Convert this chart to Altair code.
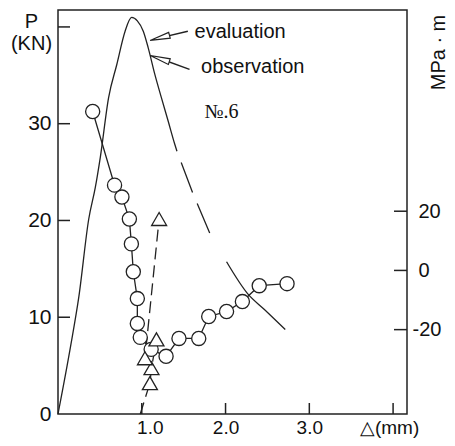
import altair as alt
import pandas as pd

# ---- data (x: displacement mm, p: load kN) ----
eval_rise_x = [0, 0.150, 0.249, 0.367, 0.446, 0.505, 0.604, 0.702, 0.801, 0.879,
               0.947, 1.018, 1.077, 1.156, 1.234, 1.314, 1.393, 1.420]
eval_rise_p = [0, 6.99, 12.13, 20.15, 23.44, 26.53, 32.70, 36.12, 39.56, 40.98,
               40.62, 39.56, 37.84, 35.10, 32.70, 30.30, 27.90, 27.15]
eval_dash_x = [1.420, 1.609, 1.846]
eval_dash_p = [27.15, 22.83, 17.99]
eval_tail_x = [2.012, 2.263, 2.464, 2.713]
eval_tail_p = [15.73, 12.44, 10.80, 8.74]

obs_x = [0.414, 0.675, 0.763, 0.852, 0.876, 0.899, 0.947, 0.947, 0.982, 1.112,
         1.290, 1.444, 1.680, 1.799, 2.012, 2.201, 2.402, 2.734]
obs_p = [31.26, 23.65, 22.42, 20.15, 17.58, 14.70, 11.93, 9.36, 7.92, 6.68,
         5.96, 7.81, 7.81, 10.08, 10.59, 11.62, 13.26, 13.47]

tri_x = [0.982, 1.097, 1.116, 1.175, 1.038, 1.207]
tri_p = [0.0, 3.19, 4.73, 7.71, 5.76, 20.15]
tri_marker = [False, True, True, True, True, True]

x_ticks = [1, 2, 3, 4]
p_ticks = [10, 20, 30, 40]
p_labels = [0, 10, 20, 30]
k_ticks = [-20, 0, 20]

labels_text = ["evaluation", "observation"]
labels_x = [1.630, 1.708]
labels_p = [38.87, 35.27]
arrow_tail_x = [1.550, 1.570]
arrow_tail_p = [39.56, 35.61]
arrow_head_x = [1.215, 1.215]
arrow_head_p = [38.87, 36.73]
arrow_angle = [345, 18]
no_text = ["№.6"]
no_x = [1.748]
no_p = [30.64]

W, H = 349, 404
INK = "#222222"

X = alt.Scale(domain=[0, 4.166], nice=False, zero=False)
YP = alt.Scale(domain=[0, 41.75], nice=False, zero=False)
YK = alt.Scale(domain=[-48.5, 87.97], nice=False, zero=False)

rise = pd.DataFrame({"x": eval_rise_x, "p": eval_rise_p, "seg": "rise"})
tail = pd.DataFrame({"x": eval_tail_x, "p": eval_tail_p, "seg": "tail"})
solid_df = pd.concat([rise, tail], ignore_index=True)
dash_df = pd.DataFrame({"x": eval_dash_x, "p": eval_dash_p})
obs_df = pd.DataFrame({"x": obs_x, "p": obs_p, "i": range(len(obs_x))})
tri_df = pd.DataFrame({"x": tri_x, "p": tri_p, "i": range(len(tri_x)), "m": tri_marker})
arrow_df = pd.DataFrame({"x": arrow_tail_x, "p": arrow_tail_p,
                         "x2": arrow_head_x, "p2": arrow_head_p, "ang": arrow_angle})
lab_df = pd.DataFrame({"t": labels_text, "x": labels_x, "p": labels_p})
no_df = pd.DataFrame({"t": no_text, "x": no_x, "p": no_p})

x_axis = alt.Axis(values=x_ticks, ticks=False, domain=False, grid=False, title=None,
                  labelFontSize=19, labelPadding=4,
                  labelExpr="datum.value == 4 ? '△(mm)' : format(datum.value, '.1f')",
                  labelOffset={"condition": [{"test": "datum.value === 1", "value": 8},
                                             {"test": "datum.value === 4", "value": -4}],
                               "value": 0})
y_axis = alt.Axis(orient="left", values=p_labels, ticks=False, domain=False, grid=False,
                  labelFontSize=21, labelPadding=7,
                  title=["P", "(KN)"], titleAngle=0, titleX=-27, titleY=1,
                  titleAlign="center", titleBaseline="top", titleFontSize=20,
                  titleFontWeight="normal", titleLineHeight=22)
k_axis = alt.Axis(orient="right", values=k_ticks, ticks=False, domain=False, grid=False,
                  labelAlign="left", labelFontSize=20,
                  labelPadding={"condition": {"test": "datum.value < 0", "value": 5}, "value": 11},
                  labelExpr="datum.value < 0 ? '-' + (-datum.value) : '' + datum.value",
                  title="MPa · m", titleAngle=270, titleX=31, titleY=42, titleAlign="center",
                  titleBaseline="middle", titleFontSize=20, titleFontWeight="normal")

# every layer with an x field shares the same x axis definition (shared scale)
def xq(f="x"):
    return alt.X(f + ":Q", scale=X, axis=x_axis)

def yq(f="p"):
    return alt.Y(f + ":Q", scale=YP, axis=None)

solid = alt.Chart(solid_df).mark_line(color=INK, strokeWidth=1.3, interpolate="monotone").encode(
    x=xq(),
    y=alt.Y("p:Q", scale=YP, axis=y_axis),
    detail="seg:N",
)
dashed = alt.Chart(dash_df).mark_line(color=INK, strokeWidth=1.3, strokeDash=[32, 12],
                                      strokeDashOffset=32).encode(x=xq(), y=yq())
obs_line = alt.Chart(obs_df).mark_line(color=INK, strokeWidth=1.3).encode(
    x=xq(), y=yq(), order="i:Q")
tri_line = alt.Chart(tri_df).mark_line(color=INK, strokeWidth=1.3, strokeDash=[12, 6]).encode(
    x=xq(), y=yq(), order="i:Q")
shafts = alt.Chart(arrow_df).mark_rule(color=INK, strokeWidth=1.5).encode(
    x=xq(), y=yq(), x2="x2:Q", y2="p2:Q")
obs_pts = alt.Chart(obs_df).mark_point(shape="circle", size=200, filled=True, fill="white",
                                       stroke=INK, strokeWidth=1.3, opacity=1).encode(
    x=xq(), y=yq())
tri_pts = alt.Chart(tri_df).transform_filter("datum.m").mark_point(
    shape="triangle-up", size=225, filled=True, fill="white", stroke=INK,
    strokeWidth=1.3, opacity=1).encode(x=xq(), y=yq())
heads = alt.Chart(arrow_df).mark_point(shape="M-1,0L1,-0.3L1,0.3Z", size=400, filled=True,
                                       fill="white", stroke=INK, strokeWidth=1.2, opacity=1).encode(
    x=xq("x2"), y=yq("p2"), angle=alt.Angle("ang:Q", scale=None))
labels = alt.Chart(lab_df).mark_text(align="left", baseline="alphabetic", fontSize=20,
                                     font="Liberation Sans", color="#111").encode(
    x=xq(), y=yq(), text="t:N")
no_lab = alt.Chart(no_df).mark_text(align="left", baseline="alphabetic", fontSize=20,
                                    font="Liberation Serif", color="#111").encode(
    x=xq(), y=yq(), text="t:N")
left_ticks = alt.Chart(pd.DataFrame({"v": p_ticks})).mark_rule(color=INK, strokeWidth=1.5).encode(
    y=yq("v"), x=alt.value(0), x2=alt.value(12))
bottom_ticks = alt.Chart(pd.DataFrame({"v": x_ticks})).mark_rule(color=INK, strokeWidth=1.5).encode(
    x=xq("v"), y=alt.value(H - 11), y2=alt.value(H))
# right (MPa·m) axis with its own scale
right_ticks = alt.Chart(pd.DataFrame({"k": k_ticks})).mark_rule(color=INK, strokeWidth=1.5).encode(
    y=alt.Y("k:Q", scale=YK, axis=k_axis), x=alt.value(W - 13), x2=alt.value(W))

chart = alt.layer(solid, dashed, obs_line, tri_line, shafts, obs_pts, tri_pts, heads,
                  labels, no_lab, left_ticks, bottom_ticks, right_ticks
).resolve_scale(y="independent").properties(
    width=W, height=H,
    padding={"left": 50, "top": 2, "right": 40, "bottom": 24},
    autosize=alt.AutoSizeParams(type="none"),
    background="white",
).configure_view(stroke=INK, strokeWidth=1.5).configure_axis(
    labelFont="Liberation Sans", titleFont="Liberation Sans",
    labelColor="#111", titleColor="#111")

chart.save("out.html", embed_options={"renderer": "svg", "actions": False})
